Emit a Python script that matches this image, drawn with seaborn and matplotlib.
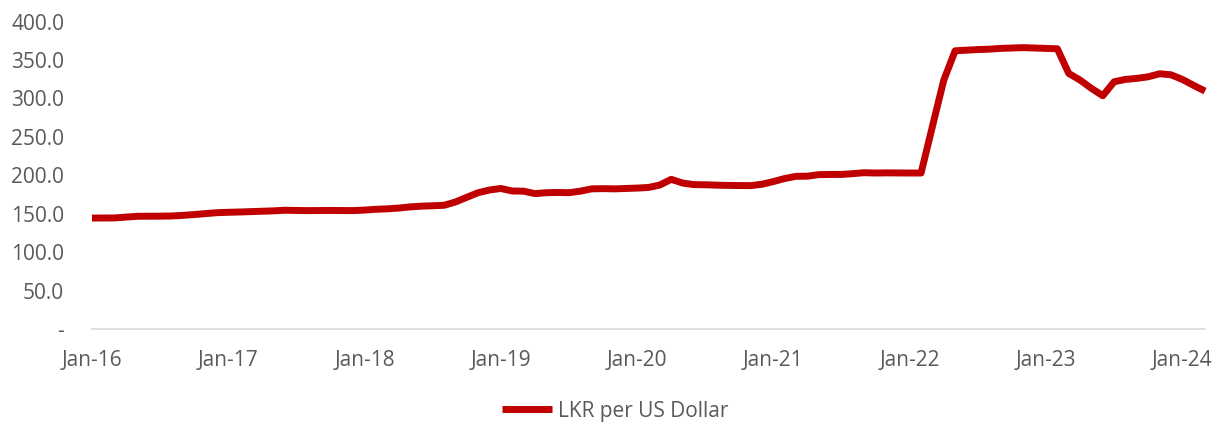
import matplotlib
matplotlib.use("Agg")
import numpy as np
import pandas as pd
import matplotlib.pyplot as plt
import seaborn as sns

# Monthly LKR per USD, Jan-16 .. Mar-24
month_labels = list(pd.date_range("2016-01-01", periods=99, freq="MS").strftime("%b-%y"))
lkr_per_usd = [
    144.3, 144.4, 144.5, 145.6, 146.6, 146.7, 146.8, 147.0, 147.8, 148.9, 150.1, 151.3,  # 2016
    151.8, 152.2, 152.7, 153.2, 153.7, 154.5, 154.2, 154.0, 154.1, 154.2, 154.1, 154.0,  # 2017
    154.7, 155.7, 156.3, 157.3, 158.8, 159.8, 160.3, 160.9, 165.2, 171.3, 177.3, 180.8,  # 2018
    182.8, 179.5, 179.3, 176.1, 177.3, 177.6, 177.3, 179.3, 182.3, 182.6, 182.3, 182.8,  # 2019
    183.3, 184.1, 187.3, 194.7, 189.9, 187.8, 187.6, 187.1, 186.8, 186.6, 186.5, 188.3,  # 2020
    191.8, 195.8, 198.6, 198.8, 200.8, 201.0, 201.1, 202.1, 203.3, 202.9, 203.1, 203.0,  # 2021
    202.9, 202.9, 263.6, 323.8, 361.9, 362.7, 363.5, 364.0, 365.0, 365.5, 366.0, 365.5,  # 2022
    365.0, 364.5, 332.5, 323.8, 313.0, 303.4, 321.6, 324.7, 326.0, 328.1, 332.0, 330.7,  # 2023
    324.7, 316.9, 309.5,                                                                  # 2024
]
year_tick_labels = ["Jan-16", "Jan-17", "Jan-18", "Jan-19", "Jan-20",
                    "Jan-21", "Jan-22", "Jan-23", "Jan-24"]
y_tick_values = [0, 50, 100, 150, 200, 250, 300, 350, 400]
series_name = "LKR per US Dollar"

df = pd.DataFrame({"month_idx": np.arange(len(lkr_per_usd)),
                   "month": month_labels,
                   "rate": lkr_per_usd})

sns.set_theme(style="white")
plt.rcParams["font.family"] = ["Open Sans", "DejaVu Sans"]

W, H = 1214, 423
fig = plt.figure(figsize=(W / 100, H / 100), dpi=100)
ax = fig.add_axes([92 / W, 94 / H, (1205 - 92) / W, (401.5 - 94) / H])

sns.lineplot(data=df, x="month_idx", y="rate", color="#C00000", linewidth=5,
             ax=ax, label=series_name, legend=False)
for ln in ax.get_lines():
    ln.set_clip_on(False)
    ln.set_solid_joinstyle("round")
    ln.set_solid_capstyle("butt")

ax.set_xlim(0, len(lkr_per_usd) - 1)
ax.set_ylim(0, 400)
ax.set_xticks(list(range(0, 12 * len(year_tick_labels), 12)))
ax.set_xticklabels(year_tick_labels)
ax.set_yticks(y_tick_values)
ax.set_yticklabels(["-" if v == 0 else f"{v:.1f}" for v in y_tick_values])
ax.set_xlabel("")
ax.set_ylabel("")

for s in ["top", "right", "left"]:
    ax.spines[s].set_visible(False)
ax.spines["bottom"].set_color("#D9D9D9")
ax.spines["bottom"].set_linewidth(1.2)
ax.grid(False)

ax.tick_params(axis="x", direction="out", length=5, width=1.2, color="#D9D9D9",
               pad=10, labelsize=15, labelcolor="#595959")
ax.tick_params(axis="y", length=0, pad=20, labelsize=15, labelcolor="#595959")

handles, labels = ax.get_legend_handles_labels()
leg = fig.legend(handles, labels, loc="center", bbox_to_anchor=(615 / W, 1 - 411 / H),
                 frameon=False, handlelength=2.4, handletextpad=0.3, fontsize=15,
                 borderpad=0.1)
for t in leg.get_texts():
    t.set_color("#595959")
for h in leg.get_lines():
    h.set_solid_capstyle("butt")

fig.savefig("out.png", dpi=100)
